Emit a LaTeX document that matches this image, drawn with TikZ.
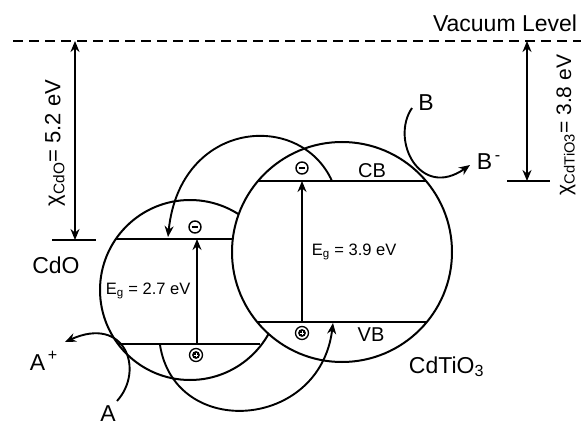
\documentclass[tikz,border=0pt]{standalone}
\usepackage{fontspec}
\setmainfont{Liberation Sans}
\usetikzlibrary{arrows.meta}
\begin{document}
\begin{tikzpicture}[x=1pt,y=-1pt, line width=1.9pt,
  big/.style={font=\fontsize{23}{27}\selectfont, inner sep=0pt},
  mid/.style={font=\fontsize{20}{24}\selectfont, inner sep=0pt},
  small/.style={font=\fontsize{16.5}{20}\selectfont, inner sep=0pt},
  arr/.style={-{Stealth[length=11pt,width=9pt]}},
  darr/.style={{Stealth[length=11pt,width=9pt]}-{Stealth[length=11pt,width=9pt]}},
  elec/.style={circle,draw,line width=1.4pt,minimum size=12pt,inner sep=0pt,
    path picture={\draw[line width=1.8pt] ([xshift=-3.2pt]path picture bounding box.center) -- ([xshift=3.2pt]path picture bounding box.center);}},
  hole/.style={circle,draw,line width=1.3pt,minimum size=13pt,inner sep=0pt,
    path picture={\fill (path picture bounding box.center) circle [radius=3.9pt];
      \draw[white, line width=1pt] ([xshift=-2.2pt]path picture bounding box.center) -- ([xshift=2.2pt]path picture bounding box.center);
      \draw[white, line width=1pt] ([yshift=-2.2pt]path picture bounding box.center) -- ([yshift=2.2pt]path picture bounding box.center);}}]
\useasboundingbox (0,0) rectangle (581,425);

% vacuum level
\coordinate (vl) at (13,41);
\coordinate (vr) at (581,41);
\draw[dash pattern=on 10pt off 6pt] (vl) -- (vr);
\node[big, anchor=south east] (vac) at (578,33) {Vacuum Level};

% CdO electron affinity
\coordinate (cdoL1) at (52,240);
\coordinate (cdoL2) at (96,240);
\draw (cdoL1) -- (cdoL2);
\coordinate (chiA1) at (75,41);
\coordinate (chiA2) at (75,240);
\draw[darr] (chiA2) -- (chiA1);
\node[big, rotate=90, font=\fontsize{22}{26}\selectfont] (chicdo) at (55,143) {χ\textsubscript{CdO}= 5.2 eV};
\node[big, anchor=base] (cdo) at (56,273) {CdO};

% CdTiO3 electron affinity
\coordinate (ctL1) at (507,181);
\coordinate (ctL2) at (550,181);
\draw (ctL1) -- (ctL2);
\coordinate (chiB1) at (527,41);
\coordinate (chiB2) at (527,181);
\draw[darr] (chiB2) -- (chiB1);
\node[big, rotate=90, font=\fontsize{21}{25}\selectfont] (chict) at (566,125) {χ\textsubscript{CdTiO3}= 3.8 eV};

% circles
\coordinate (cC) at (342,252);
\coordinate (cO) at (190,290);
\draw[line width=2pt] (cC) circle [radius=110];
\begin{scope}[even odd rule]
  \clip (0,0) rectangle (581,425) (342,252) circle [radius=110];
  \draw[line width=2pt] (cO) circle [radius=90];
\end{scope}

% bands CdO
\coordinate (ocb1) at (116,239); \coordinate (ocb2) at (233,239);
\coordinate (ovb1) at (118,344); \coordinate (ovb2) at (260,344);
\draw (ocb1) -- (ocb2);
\draw (ovb1) -- (ovb2);
% bands CdTiO3
\coordinate (ccb1) at (258,181); \coordinate (ccb2) at (426,181);
\coordinate (cvb1) at (257,322); \coordinate (cvb2) at (427,322);
\draw (ccb1) -- (ccb2);
\draw (cvb1) -- (cvb2);

% band gap arrows
\coordinate (ogA) at (197,344); \coordinate (ogB) at (197,239);
\draw[arr, line width=1.5pt] (ogA) -- (ogB);
\coordinate (cgA) at (302,322); \coordinate (cgB) at (302,181);
\draw[arr, line width=1.5pt] (cgA) -- (cgB);
\node[small, anchor=west] (eg1) at (105,291) {E\textsubscript{g} = 2.7 eV};
\node[small, anchor=west] (eg2) at (311,252) {E\textsubscript{g} = 3.9 eV};

% charges
\node[elec] (e1) at (195,227) {};
\node[elec] (e2) at (302,168) {};
\node[hole] (h1) at (196,355) {};
\node[hole] (h2) at (302,333) {};

% band labels
\node[mid, anchor=base] (cb) at (372,178) {CB};
\node[mid, anchor=base] (vb) at (371,341) {VB};
\node[big, anchor=base west] (ctio) at (408,373) {CdTiO\textsubscript{3}};

% transfer arcs
\coordinate (tr1s) at (332,181); \coordinate (tr1e) at (168,237);
\draw[arr] (tr1s) .. controls (300,110) and (180,120) .. (tr1e);
\coordinate (tr2s) at (160,345); \coordinate (tr2e) at (333,323);
\draw[arr] (tr2s) .. controls (175,440) and (320,430) .. (tr2e);

% redox
\node[big, anchor=base west] (aplus) at (29,370) {A\textsuperscript{\,+}};
\node[big, anchor=base] (a) at (108,421) {A};
\coordinate (as) at (117,401); \coordinate (ae) at (65,342);
\draw[arr] (as) .. controls (145,370) and (125,315) .. (ae);

\node[big, anchor=base] (b) at (426,111) {B};
\node[big, anchor=base west] (bminus) at (476,170) {B\textsuperscript{\,-}};
\coordinate (bs) at (412,108); \coordinate (be) at (470,165);
\draw[arr] (bs) .. controls (390,140) and (420,200) .. (be);
\end{tikzpicture}
\end{document}
